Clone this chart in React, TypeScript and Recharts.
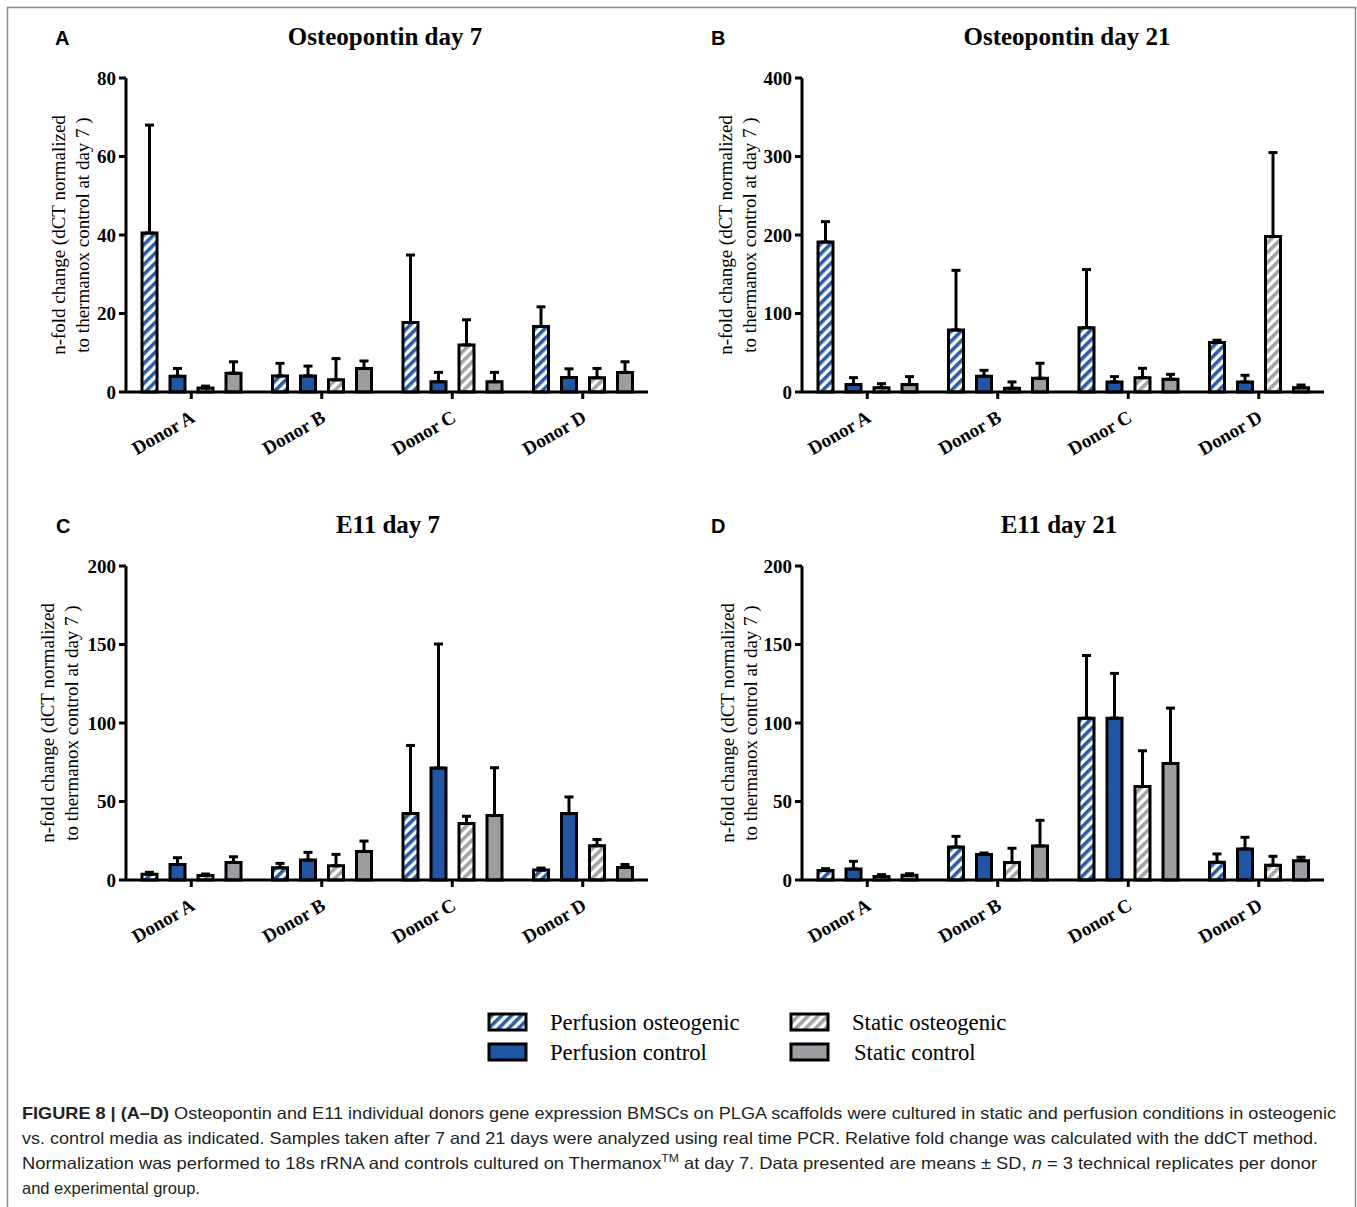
import React from 'react';
import { BarChart, Bar, XAxis, YAxis, ErrorBar } from 'recharts';

const SERIF = "'Liberation Serif', 'Times New Roman', Times, serif";
const SANS = "'Liberation Sans', Arial, Helvetica, sans-serif";

const donors = ['Donor A', 'Donor B', 'Donor C', 'Donor D'];
const seriesLabels = ['Perfusion osteogenic', 'Perfusion control', 'Static osteogenic', 'Static control'];

// Osteopontin day 7 (means and SD)
const opn7PerfOst = [40.5, 4.1, 17.7, 16.7];
const opn7PerfCtl = [4.0, 4.1, 2.6, 3.7];
const opn7StatOst = [1.0, 3.1, 12.0, 3.6];
const opn7StatCtl = [4.8, 6.0, 2.6, 5.0];
const opn7PerfOstSd = [27.5, 3.2, 17.2, 5.0];
const opn7PerfCtlSd = [2.0, 2.5, 2.4, 2.2];
const opn7StatOstSd = [0.5, 5.4, 6.4, 2.4];
const opn7StatCtlSd = [2.9, 1.9, 2.4, 2.7];

// Osteopontin day 21
const opn21PerfOst = [191, 79, 82, 63];
const opn21PerfCtl = [9.4, 20, 12.8, 12.8];
const opn21StatOst = [5.5, 4.7, 18.3, 198];
const opn21StatCtl = [9.4, 17.4, 16.2, 5.5];
const opn21PerfOstSd = [26, 76, 74, 3];
const opn21PerfCtlSd = [8.9, 7.6, 6.8, 8.5];
const opn21StatOstSd = [5.1, 8.1, 11.9, 107];
const opn21StatCtlSd = [10.2, 19.2, 6.3, 3.4];

// E11 day 7
const e11d7PerfOst = [3.6, 7.8, 42.3, 6.3];
const e11d7PerfCtl = [9.9, 12.7, 71.3, 42.3];
const e11d7StatOst = [2.8, 9.1, 36.0, 21.8];
const e11d7StatCtl = [11.2, 18.2, 41.1, 8.0];
const e11d7PerfOstSd = [1.3, 2.8, 43.4, 1.3];
const e11d7PerfCtlSd = [4.3, 4.9, 79, 10.6];
const e11d7StatOstSd = [1.0, 7.2, 4.6, 4.0];
const e11d7StatCtlSd = [3.6, 6.6, 30.4, 1.9];

// E11 day 21
const e11d21PerfOst = [6.0, 21.0, 103.1, 11.3];
const e11d21PerfCtl = [7.0, 16.2, 103.1, 19.8];
const e11d21StatOst = [2.3, 11.1, 59.5, 9.4];
const e11d21StatCtl = [3.0, 21.7, 74.2, 12.3];
const e11d21PerfOstSd = [1.2, 6.8, 39.9, 5.3];
const e11d21PerfCtlSd = [4.9, 1.0, 28.5, 7.4];
const e11d21StatOstSd = [1.1, 9.1, 22.8, 5.7];
const e11d21StatCtlSd = [1.0, 16.3, 35.3, 2.2];

const opn7Ticks = [0, 20, 40, 60, 80];
const opn21Ticks = [0, 100, 200, 300, 400];
const e11Ticks = [0, 50, 100, 150, 200];

const seriesKeys = ['po', 'pc', 'so', 'sc'];
const seriesFills = ['url(#hatchBlue)', '#2156a5', 'url(#hatchGray)', '#9c9da1'];

const buildRows = (means: number[][], sds: number[][]) =>
    donors.map((donor, i) => {
        const row: any = { donor };
        seriesKeys.forEach((k, s) => {
            row[k] = means[s][i];
            row[k + 'Err'] = [0, sds[s][i]];
        });
        return row;
    });

const DonorTick = (props: any) => {
    const { x, y, payload } = props;
    const ax = x + 5;
    const ay = y + 20;
    return (
        <text x={ax} y={ay} textAnchor="end" transform={`rotate(-30, ${ax}, ${ay})`}
            fontFamily={SERIF} fontWeight="bold" fontSize={19} fill="#000">
            {payload.value}
        </text>
    );
};

interface PanelProps {
    letter: string;
    letterX: number;
    title: string;
    titleX: number;
    rows: any[];
    max: number;
    ticks: number[];
    left: number;
    top: number;
    labelX: [number, number];
}

const Panel: React.FC<PanelProps> = ({ letter, letterX, title, titleX, rows, max, ticks, left, top, labelX }) => (
    <div style={{ position: 'absolute', left, top, width: 680, height: 480 }}>
        <BarChart width={680} height={480} data={rows}
            margin={{ top: 78, right: 32, bottom: 18, left: 66 }} barSize={15} barGap={13}>
            <XAxis dataKey="donor" height={70} interval={0}
                axisLine={{ stroke: '#000', strokeWidth: 3 }}
                tickLine={{ stroke: '#000', strokeWidth: 3 }}
                tickSize={7} tickMargin={2} tick={<DonorTick />} />
            <YAxis width={60} domain={[0, max]} ticks={ticks} interval={0}
                axisLine={{ stroke: '#000', strokeWidth: 3 }}
                tickLine={{ stroke: '#000', strokeWidth: 3 }}
                tickSize={7} tickMargin={3}
                tick={{ fontFamily: SERIF, fontWeight: 'bold', fontSize: 19, fill: '#000' }} />
            {seriesKeys.map((k, s) => (
                <Bar key={k} dataKey={k} name={seriesLabels[s]} fill={seriesFills[s]}
                    stroke="#000" strokeWidth={3} isAnimationActive={false}>
                    <ErrorBar dataKey={k + 'Err'} direction="y" width={4.5} strokeWidth={3} stroke="#000" />
                </Bar>
            ))}
        </BarChart>
        <svg width={680} height={480} style={{ position: 'absolute', left: 0, top: 0, pointerEvents: 'none' }}>
            <text x={letterX} y={45} fontFamily={SANS} fontWeight="bold" fontSize={20} fill="#000">{letter}</text>
            <text x={titleX} y={45} textAnchor="middle" fontFamily={SERIF} fontWeight="bold" fontSize={25} fill="#000">{title}</text>
            <text transform={`translate(${labelX[0]}, 235) rotate(-90)`} textAnchor="middle" fontFamily={SERIF} fontSize={19} fill="#000">
                n-fold change (dCT normalized
            </text>
            <text transform={`translate(${labelX[1]}, 235) rotate(-90)`} textAnchor="middle" fontFamily={SERIF} fontSize={19} fill="#000">
                to thermanox control at day 7 )
            </text>
        </svg>
    </div>
);

const LegendItem = ({ x, y, fill, label, textX }: { x: number; y: number; fill: string; label: string; textX: number }) => (
    <g>
        <rect x={x} y={y} width={37} height={16} fill={fill} stroke="#000" strokeWidth={3} />
        <text x={textX} y={y + 16} fontFamily={SERIF} fontSize={22.7} fill="#000">{label}</text>
    </g>
);

export default function App() {
    const opn7Rows = buildRows([opn7PerfOst, opn7PerfCtl, opn7StatOst, opn7StatCtl],
        [opn7PerfOstSd, opn7PerfCtlSd, opn7StatOstSd, opn7StatCtlSd]);
    const opn21Rows = buildRows([opn21PerfOst, opn21PerfCtl, opn21StatOst, opn21StatCtl],
        [opn21PerfOstSd, opn21PerfCtlSd, opn21StatOstSd, opn21StatCtlSd]);
    const e11d7Rows = buildRows([e11d7PerfOst, e11d7PerfCtl, e11d7StatOst, e11d7StatCtl],
        [e11d7PerfOstSd, e11d7PerfCtlSd, e11d7StatOstSd, e11d7StatCtlSd]);
    const e11d21Rows = buildRows([e11d21PerfOst, e11d21PerfCtl, e11d21StatOst, e11d21StatCtl],
        [e11d21PerfOstSd, e11d21PerfCtlSd, e11d21StatOstSd, e11d21StatCtlSd]);

    const capStyle = { fontFamily: SANS, fontSize: 16.5, fill: '#231f20' };

    return (
        <div style={{ position: 'absolute', left: 0, top: 0, width: 1357, height: 1207, background: '#fff' }}>
            <svg width={1357} height={1207} style={{ position: 'absolute', left: 0, top: 0 }}>
                <defs>
                    <pattern id="hatchBlue" patternUnits="userSpaceOnUse" width="7" height="7" patternTransform="rotate(45)">
                        <rect width="7" height="7" fill="#fff" />
                        <rect width="3.6" height="7" fill="#2a5ca8" />
                    </pattern>
                    <pattern id="hatchGray" patternUnits="userSpaceOnUse" width="7" height="7" patternTransform="rotate(45)">
                        <rect width="7" height="7" fill="#fff" />
                        <rect width="3.6" height="7" fill="#a3a3a3" />
                    </pattern>
                </defs>
                <path d="M7.5 1207 V7.5 H1355.5 V1207" fill="none" stroke="#8a8a8a" strokeWidth={1.5} />

                <LegendItem x={489} y={1014} fill={seriesFills[0]} label={seriesLabels[0]} textX={550} />
                <LegendItem x={489} y={1044} fill={seriesFills[1]} label={seriesLabels[1]} textX={550} />
                <LegendItem x={791} y={1014} fill={seriesFills[2]} label={seriesLabels[2]} textX={852} />
                <LegendItem x={791} y={1044} fill={seriesFills[3]} label={seriesLabels[3]} textX={854} />

                <text x={22} y={1119} textLength={1314} lengthAdjust="spacingAndGlyphs" {...capStyle}>
                    <tspan fontWeight="bold">FIGURE 8 | (A–D)</tspan> Osteopontin and E11 individual donors gene expression BMSCs on PLGA scaffolds were cultured in static and perfusion conditions in osteogenic
                </text>
                <text x={22} y={1144} textLength={1296} lengthAdjust="spacingAndGlyphs" {...capStyle}>
                    vs. control media as indicated. Samples taken after 7 and 21 days were analyzed using real time PCR. Relative fold change was calculated with the ddCT method.
                </text>
                <text x={22} y={1169} textLength={1295} lengthAdjust="spacingAndGlyphs" {...capStyle}>
                    Normalization was performed to 18s rRNA and controls cultured on Thermanox<tspan dy={-7} fontSize={11}>TM</tspan><tspan dy={7}> at day 7. Data presented are means ± SD, </tspan><tspan fontStyle="italic">n</tspan> = 3 technical replicates per donor
                </text>
                <text x={22} y={1194} {...capStyle}>and experimental group.</text>
            </svg>

            <Panel letter="A" letterX={55} title="Osteopontin day 7" titleX={385} rows={opn7Rows}
                max={80} ticks={opn7Ticks} left={0} top={0} labelX={[65, 89]} />
            <Panel letter="B" letterX={35} title="Osteopontin day 21" titleX={391} rows={opn21Rows}
                max={400} ticks={opn21Ticks} left={676} top={0} labelX={[56, 80]} />
            <Panel letter="C" letterX={56} title="E11 day 7" titleX={388} rows={e11d7Rows}
                max={200} ticks={e11Ticks} left={0} top={488} labelX={[54, 78]} />
            <Panel letter="D" letterX={35} title="E11 day 21" titleX={383} rows={e11d21Rows}
                max={200} ticks={e11Ticks} left={676} top={488} labelX={[58, 81]} />
        </div>
    );
}
